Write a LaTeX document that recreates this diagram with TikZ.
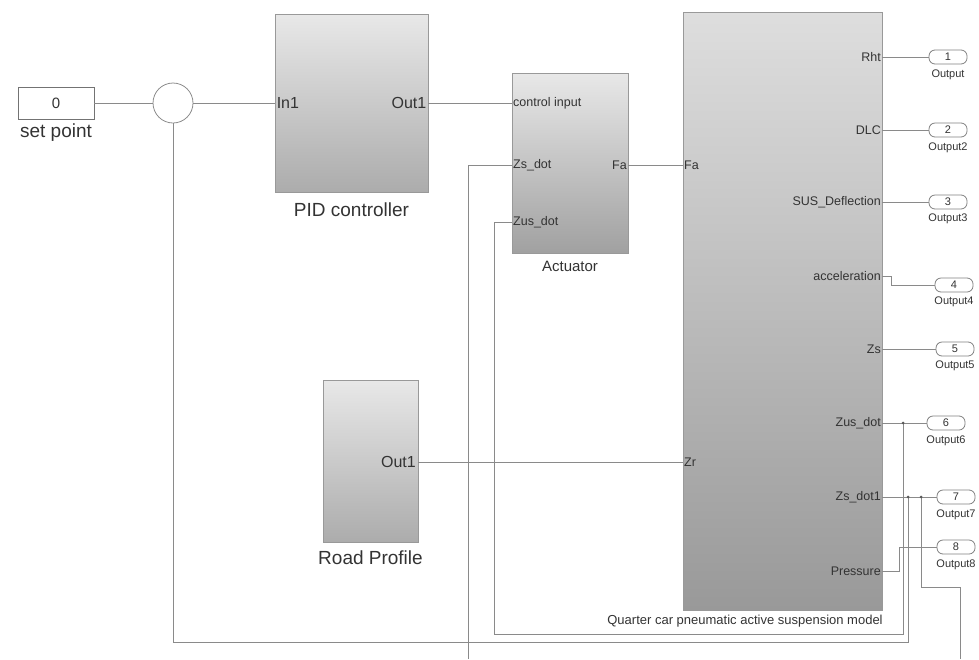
\documentclass[tikz,border=0pt]{standalone}
\usepackage{fontspec}
\setmainfont{Liberation Sans}
\usepackage{xcolor}
\usepackage{tikz}
\usetikzlibrary{positioning,arrows.meta}

\definecolor{blktop}{HTML}{E8E8E8}
\definecolor{blkbot}{HTML}{ACACAC}
\definecolor{sigcol}{HTML}{8A8A8A}
\definecolor{txtcol}{HTML}{333333}

\begin{document}
\begin{tikzpicture}[x=1pt, y=-1pt,
  blk/.style={draw=black!40, line width=0.9pt, top color=blktop, bottom color=blkbot, inner sep=0pt},
  portl/.style={anchor=west, inner sep=1pt, font=\fontsize{12.5}{13}\selectfont, text=txtcol},
  portr/.style={anchor=east, inner sep=1pt, font=\fontsize{12.5}{13}\selectfont, text=txtcol},
  bigport/.style={inner sep=2pt, font=\fontsize{16}{18}\selectfont, text=txtcol},
  blklab/.style={font=\fontsize{19}{21}\selectfont, text=txtcol},
  sig/.style={draw=sigcol, line width=0.8pt},
  outp/.style={draw=black!50, line width=0.8pt, rounded corners=6pt, minimum width=38pt, minimum height=14pt, inner sep=0pt, font=\fontsize{11}{12}\selectfont, text=txtcol},
  outlab/.style={font=\fontsize{11}{12}\selectfont, text=txtcol},
  jdot/.style={circle, fill=black!65, inner sep=0pt, minimum size=3pt},
]
\useasboundingbox (0,0) rectangle (979,659);

\node[draw=black!55, line width=0.8pt, minimum width=76pt, minimum height=32pt, inner sep=0pt, font=\fontsize{15}{16}\selectfont, text=txtcol] (setpt) at (56,103) {0};
\node[blklab] (setlab) at (56,133) {set point};
\node[draw=black!45, line width=0.8pt, circle, minimum size=40pt, inner sep=0pt] (sum) at (173,103) {};

\node[blk, minimum width=153pt, minimum height=178pt] (pid) at (351.5,103) {};
\node[bigport, anchor=west] (pidin) at (pid.west) {In1};
\node[bigport, anchor=east] (pidout) at (pid.east) {Out1};
\node[blklab] (pidlab) at (351.5,210) {PID controller};

\node[blk, minimum width=116pt, minimum height=180pt, bottom color=black!37] (act) at (570,163) {};
\node[portl] (actci) at (512,103) {control input};
\node[portl] (actzs) at (512,165) {Zs\_dot};
\node[portl] (actzus) at (512,222) {Zus\_dot};
\node[portr] (actfa) at (628,165) {Fa};
\node[font=\fontsize{15}{16}\selectfont, text=txtcol] (actlab) at (570,266) {Actuator};

\node[blk, minimum width=95pt, minimum height=162pt] (road) at (370.5,461) {};
\node[bigport, anchor=east] (roadout) at (418,462) {Out1};
\node[blklab] (roadlab) at (370.5,558) {Road Profile};

\node[blk, minimum width=199pt, minimum height=598pt, top color=black!13, bottom color=black!40] (model) at (782.5,311) {};
\node[portl] (mfa) at (683,165) {Fa};
\node[portl] (mzr) at (683,462) {Zr};
\node[portr] (mrht) at (882,57) {Rht};
\node[portr] (mdlc) at (882,130) {DLC};
\node[portr] (msus) at (882,202) {SUS\_Deflection};
\node[portr] (macc) at (882,276) {acceleration};
\node[portr] (mzs) at (882,349) {Zs};
\node[portr] (mzus) at (882,423) {Zus\_dot};
\node[portr] (mzsd) at (882,497) {Zs\_dot1};
\node[portr] (mpres) at (882,571) {Pressure};
\node[font=\fontsize{13}{14}\selectfont, text=txtcol] (modlab) at (745,621) {Quarter car pneumatic active suspension model};

\node[outp] (o1) at (948,57) {1};
\node[outp] (o2) at (948,130) {2};
\node[outp] (o3) at (948,202) {3};
\node[outp] (o4) at (954,285) {4};
\node[outp] (o5) at (955,349) {5};
\node[outp] (o6) at (946,423) {6};
\node[outp] (o7) at (956,497) {7};
\node[outp] (o8) at (956,547) {8};
\node[outlab] (o1lab) at (948,75) {Output};
\node[outlab] (o2lab) at (948,148) {Output2};
\node[outlab] (o3lab) at (948,219) {Output3};
\node[outlab] (o4lab) at (954,302) {Output4};
\node[outlab] (o5lab) at (955,366) {Output5};
\node[outlab] (o6lab) at (946,441) {Output6};
\node[outlab] (o7lab) at (956,515) {Output7};
\node[outlab] (o8lab) at (956,565) {Output8};

\coordinate (acck) at (891,276);
\coordinate (p8) at (899,547);
\coordinate (j6) at (903,423);
\coordinate (j7a) at (908,497);
\coordinate (j7b) at (921,497);
\coordinate (b6) at (494,634);
\coordinate (fb) at (173,642);
\coordinate (r7) at (960,587);
\coordinate (offr) at (960,659);
\coordinate (offl) at (468,659);

\draw[sig] (setpt.east) -- (sum.west);
\draw[sig] (sum.east) -- (pidin.west);
\draw[sig] (pidout.east) -- (actci.west);
\draw[sig] (actfa.east) -- (mfa.west);
\draw[sig] (roadout.east) -- (mzr.west);
\draw[sig] (mrht.east) -- (o1.west);
\draw[sig] (mdlc.east) -- (o2.west);
\draw[sig] (msus.east) -- (o3.west);
\draw[sig] (macc.east) -- (acck) |- (o4.west);
\draw[sig] (mzs.east) -- (o5.west);
\draw[sig] (mzus.east) -- (o6.west);
\draw[sig] (mzsd.east) -- (o7.west);
\draw[sig] (mpres.east) -| (p8) -- (o8.west);
\draw[sig] (j6) |- (b6) |- (actzus.west);
\draw[sig] (j7a) |- (fb) -- (sum.south);
\draw[sig] (j7b) |- (r7) -- (offr);
\draw[sig] (actzs.west) -| (offl);
\node[jdot] at (j6) {};
\node[jdot] at (j7a) {};
\node[jdot] at (j7b) {};
\end{tikzpicture}
\end{document}
